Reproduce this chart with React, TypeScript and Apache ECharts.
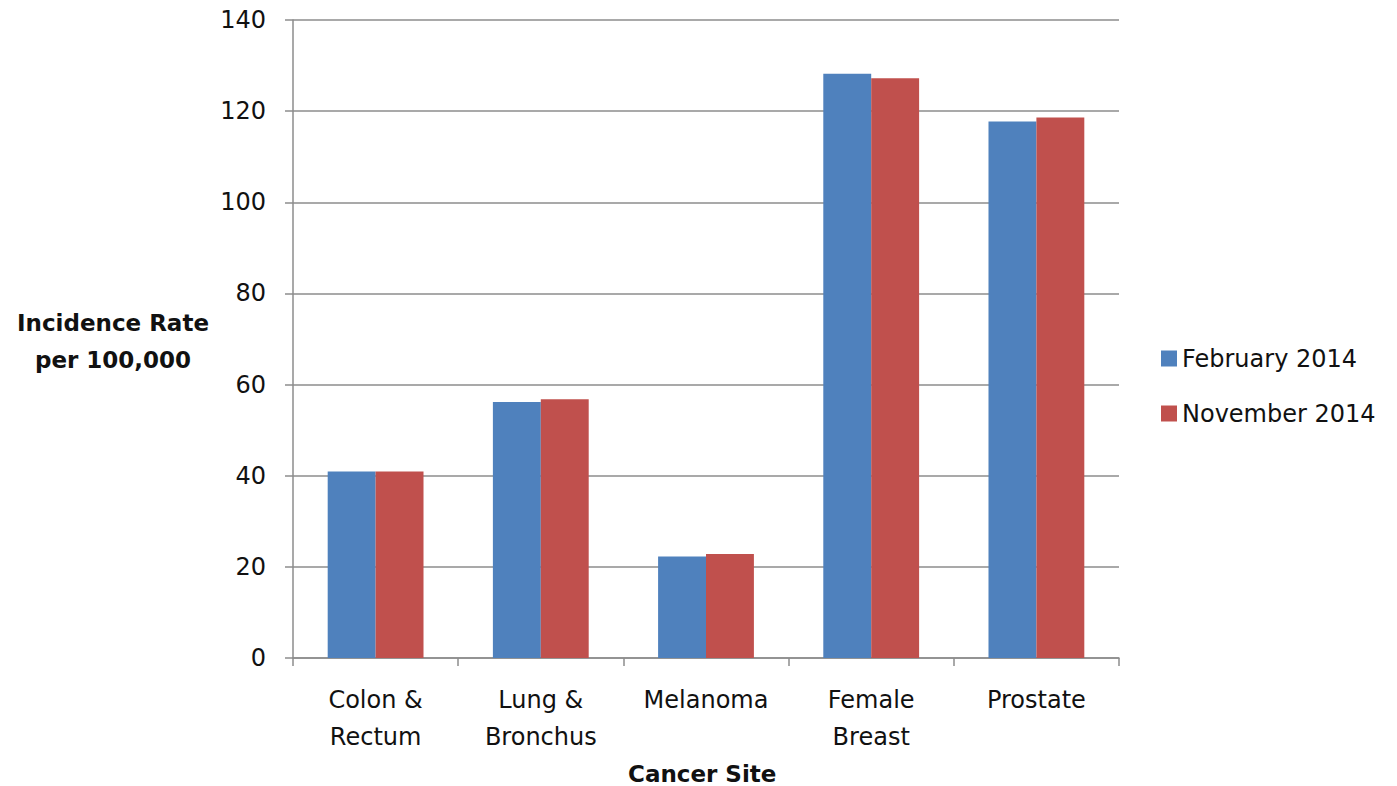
import React, { useEffect, useRef } from "react";
import * as echarts from "echarts";

const categories = ["Colon &\nRectum", "Lung &\nBronchus", "Melanoma", "Female\nBreast", "Prostate"];
const seriesNames = ["February 2014", "November 2014"];
const feb2014 = [40.9, 56.2, 22.3, 128.2, 117.7];
const nov2014 = [40.9, 56.8, 22.8, 127.2, 118.6];
const yTicks = { min: 0, max: 140, interval: 20 };
const yTitle = "Incidence Rate\nper 100,000";
const xTitle = "Cancer Site";

const FONT = "DejaVu Sans";
const TEXT = "#111111";
const GRAY = "#8c8c8c";

export default function App() {
  const ref = useRef<HTMLDivElement>(null);
  useEffect(() => {
    if (!ref.current) return;
    const chart = echarts.init(ref.current, null, { renderer: "svg" });
    chart.setOption({
      animation: false,
      backgroundColor: "#ffffff",
      textStyle: { fontFamily: FONT },
      grid: { left: 293, top: 20, right: 278, bottom: 128, containLabel: false },
      legend: {
        orient: "vertical",
        left: 1156,
        top: 341,
        icon: "rect",
        itemWidth: 16,
        itemHeight: 16,
        itemGap: 30,
        textStyle: { fontFamily: FONT, fontSize: 24, color: TEXT, lineHeight: 25 },
        data: seriesNames,
      },
      xAxis: {
        type: "category",
        data: categories,
        axisLine: { show: true, lineStyle: { color: GRAY, width: 1.5 } },
        axisTick: { show: true, length: 8, lineStyle: { color: GRAY, width: 1.5 } },
        axisLabel: {
          fontFamily: FONT,
          fontSize: 24,
          color: TEXT,
          lineHeight: 37,
          margin: 23,
          interval: 0,
        },
      },
      yAxis: {
        type: "value",
        min: yTicks.min,
        max: yTicks.max,
        interval: yTicks.interval,
        axisLine: { show: true, lineStyle: { color: GRAY, width: 1.5 } },
        axisTick: { show: true, length: 8, lineStyle: { color: GRAY, width: 1.5 } },
        splitLine: { show: true, lineStyle: { color: GRAY, width: 1.5 } },
        axisLabel: { fontFamily: FONT, fontSize: 24, color: TEXT, margin: 27 },
      },
      graphic: [
        {
          type: "text",
          left: 15,
          top: 304,
          style: {
            text: yTitle,
            fontFamily: FONT,
            fontWeight: "bold",
            fontSize: 23,
            fill: TEXT,
            lineHeight: 37,
            textAlign: "center",
            width: 196,
          },
        },
        {
          type: "text",
          left: 628,
          top: 762,
          style: {
            text: xTitle,
            fontFamily: FONT,
            fontWeight: "bold",
            fontSize: 23,
            fill: TEXT,
          },
        },
      ],
      series: [
        {
          name: seriesNames[0],
          type: "bar",
          data: feb2014,
          itemStyle: { color: "#4F81BD" },
          barGap: "0%",
          barCategoryGap: "42%",
        },
        {
          name: seriesNames[1],
          type: "bar",
          data: nov2014,
          itemStyle: { color: "#C0504D" },
          barGap: "0%",
          barCategoryGap: "42%",
        },
      ],
    });
    return () => chart.dispose();
  }, []);
  return (
    <div
      ref={ref}
      style={{ position: "fixed", left: 0, top: 0, width: 1397, height: 786, background: "#fff" }}
    />
  );
}
